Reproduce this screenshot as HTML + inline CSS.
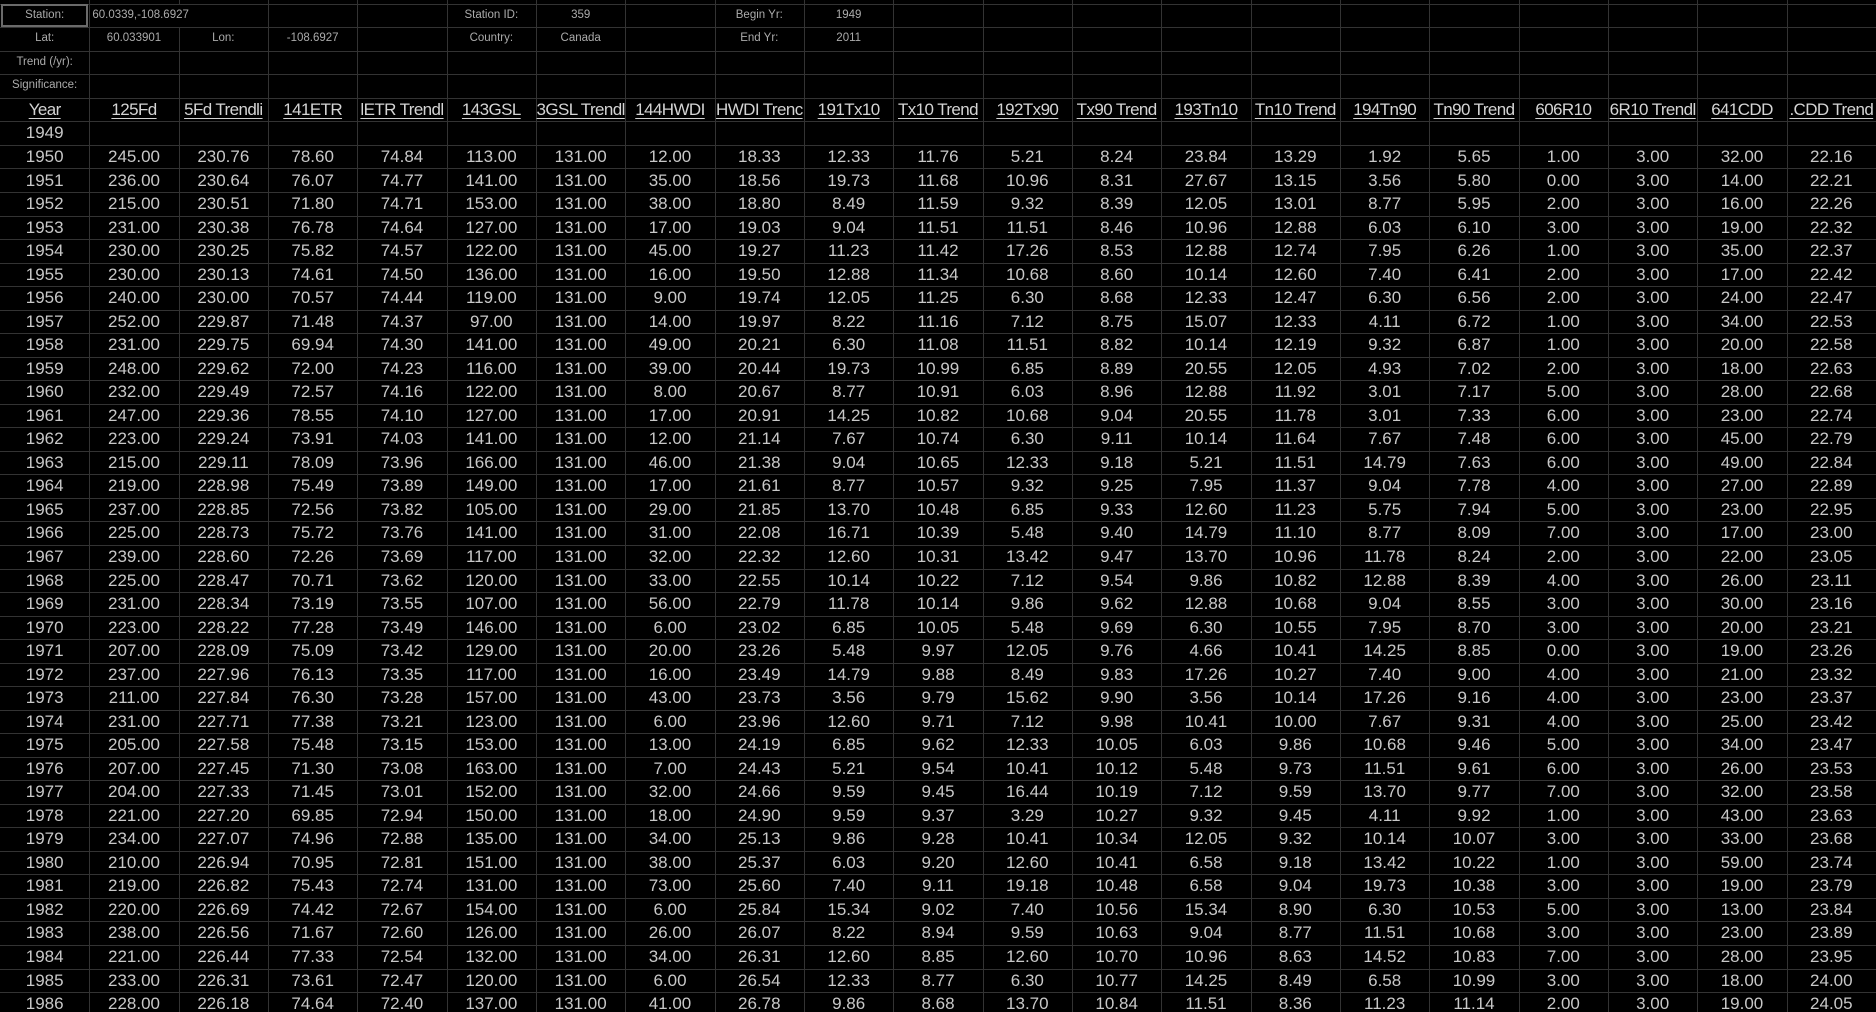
<!DOCTYPE html>
<html><head><meta charset="utf-8">
<style>
html,body{margin:0;padding:0;background:#000;width:1876px;height:1012px;overflow:hidden}
#sheet{position:relative;width:1876px;height:1012px;background:#000;font-family:"Liberation Sans",sans-serif}
.c{position:absolute;box-sizing:border-box;border-right:1px solid #333;border-bottom:1px solid #333;color:#c8c8c8;font-size:17px;text-align:center;white-space:nowrap;overflow:hidden;line-height:23px}
.s{font-size:11.5px;color:#ababab}
.h{text-decoration:underline;text-underline-offset:3px;color:#d4d4d4;letter-spacing:-0.6px}
.l{text-align:left;overflow:visible;padding-left:3px}
</style></head><body>
<div id="sheet"></div>
<script>
const headers=["Year","125Fd","5Fd Trendli","141ETR","lETR Trendl","143GSL","3GSL Trendl","144HWDI","HWDI Trenc","191Tx10","Tx10 Trend","192Tx90","Tx90 Trend","193Tn10","Tn10 Trend","194Tn90","Tn90 Trend","606R10","6R10 Trendl","641CDD",".CDD Trend"];
const dataRows=[
"1950 245.00 230.76 78.60 74.84 113.00 131.00 12.00 18.33 12.33 11.76 5.21 8.24 23.84 13.29 1.92 5.65 1.00 3.00 32.00 22.16",
"1951 236.00 230.64 76.07 74.77 141.00 131.00 35.00 18.56 19.73 11.68 10.96 8.31 27.67 13.15 3.56 5.80 0.00 3.00 14.00 22.21",
"1952 215.00 230.51 71.80 74.71 153.00 131.00 38.00 18.80 8.49 11.59 9.32 8.39 12.05 13.01 8.77 5.95 2.00 3.00 16.00 22.26",
"1953 231.00 230.38 76.78 74.64 127.00 131.00 17.00 19.03 9.04 11.51 11.51 8.46 10.96 12.88 6.03 6.10 3.00 3.00 19.00 22.32",
"1954 230.00 230.25 75.82 74.57 122.00 131.00 45.00 19.27 11.23 11.42 17.26 8.53 12.88 12.74 7.95 6.26 1.00 3.00 35.00 22.37",
"1955 230.00 230.13 74.61 74.50 136.00 131.00 16.00 19.50 12.88 11.34 10.68 8.60 10.14 12.60 7.40 6.41 2.00 3.00 17.00 22.42",
"1956 240.00 230.00 70.57 74.44 119.00 131.00 9.00 19.74 12.05 11.25 6.30 8.68 12.33 12.47 6.30 6.56 2.00 3.00 24.00 22.47",
"1957 252.00 229.87 71.48 74.37 97.00 131.00 14.00 19.97 8.22 11.16 7.12 8.75 15.07 12.33 4.11 6.72 1.00 3.00 34.00 22.53",
"1958 231.00 229.75 69.94 74.30 141.00 131.00 49.00 20.21 6.30 11.08 11.51 8.82 10.14 12.19 9.32 6.87 1.00 3.00 20.00 22.58",
"1959 248.00 229.62 72.00 74.23 116.00 131.00 39.00 20.44 19.73 10.99 6.85 8.89 20.55 12.05 4.93 7.02 2.00 3.00 18.00 22.63",
"1960 232.00 229.49 72.57 74.16 122.00 131.00 8.00 20.67 8.77 10.91 6.03 8.96 12.88 11.92 3.01 7.17 5.00 3.00 28.00 22.68",
"1961 247.00 229.36 78.55 74.10 127.00 131.00 17.00 20.91 14.25 10.82 10.68 9.04 20.55 11.78 3.01 7.33 6.00 3.00 23.00 22.74",
"1962 223.00 229.24 73.91 74.03 141.00 131.00 12.00 21.14 7.67 10.74 6.30 9.11 10.14 11.64 7.67 7.48 6.00 3.00 45.00 22.79",
"1963 215.00 229.11 78.09 73.96 166.00 131.00 46.00 21.38 9.04 10.65 12.33 9.18 5.21 11.51 14.79 7.63 6.00 3.00 49.00 22.84",
"1964 219.00 228.98 75.49 73.89 149.00 131.00 17.00 21.61 8.77 10.57 9.32 9.25 7.95 11.37 9.04 7.78 4.00 3.00 27.00 22.89",
"1965 237.00 228.85 72.56 73.82 105.00 131.00 29.00 21.85 13.70 10.48 6.85 9.33 12.60 11.23 5.75 7.94 5.00 3.00 23.00 22.95",
"1966 225.00 228.73 75.72 73.76 141.00 131.00 31.00 22.08 16.71 10.39 5.48 9.40 14.79 11.10 8.77 8.09 7.00 3.00 17.00 23.00",
"1967 239.00 228.60 72.26 73.69 117.00 131.00 32.00 22.32 12.60 10.31 13.42 9.47 13.70 10.96 11.78 8.24 2.00 3.00 22.00 23.05",
"1968 225.00 228.47 70.71 73.62 120.00 131.00 33.00 22.55 10.14 10.22 7.12 9.54 9.86 10.82 12.88 8.39 4.00 3.00 26.00 23.11",
"1969 231.00 228.34 73.19 73.55 107.00 131.00 56.00 22.79 11.78 10.14 9.86 9.62 12.88 10.68 9.04 8.55 3.00 3.00 30.00 23.16",
"1970 223.00 228.22 77.28 73.49 146.00 131.00 6.00 23.02 6.85 10.05 5.48 9.69 6.30 10.55 7.95 8.70 3.00 3.00 20.00 23.21",
"1971 207.00 228.09 75.09 73.42 129.00 131.00 20.00 23.26 5.48 9.97 12.05 9.76 4.66 10.41 14.25 8.85 0.00 3.00 19.00 23.26",
"1972 237.00 227.96 76.13 73.35 117.00 131.00 16.00 23.49 14.79 9.88 8.49 9.83 17.26 10.27 7.40 9.00 4.00 3.00 21.00 23.32",
"1973 211.00 227.84 76.30 73.28 157.00 131.00 43.00 23.73 3.56 9.79 15.62 9.90 3.56 10.14 17.26 9.16 4.00 3.00 23.00 23.37",
"1974 231.00 227.71 77.38 73.21 123.00 131.00 6.00 23.96 12.60 9.71 7.12 9.98 10.41 10.00 7.67 9.31 4.00 3.00 25.00 23.42",
"1975 205.00 227.58 75.48 73.15 153.00 131.00 13.00 24.19 6.85 9.62 12.33 10.05 6.03 9.86 10.68 9.46 5.00 3.00 34.00 23.47",
"1976 207.00 227.45 71.30 73.08 163.00 131.00 7.00 24.43 5.21 9.54 10.41 10.12 5.48 9.73 11.51 9.61 6.00 3.00 26.00 23.53",
"1977 204.00 227.33 71.45 73.01 152.00 131.00 32.00 24.66 9.59 9.45 16.44 10.19 7.12 9.59 13.70 9.77 7.00 3.00 32.00 23.58",
"1978 221.00 227.20 69.85 72.94 150.00 131.00 18.00 24.90 9.59 9.37 3.29 10.27 9.32 9.45 4.11 9.92 1.00 3.00 43.00 23.63",
"1979 234.00 227.07 74.96 72.88 135.00 131.00 34.00 25.13 9.86 9.28 10.41 10.34 12.05 9.32 10.14 10.07 3.00 3.00 33.00 23.68",
"1980 210.00 226.94 70.95 72.81 151.00 131.00 38.00 25.37 6.03 9.20 12.60 10.41 6.58 9.18 13.42 10.22 1.00 3.00 59.00 23.74",
"1981 219.00 226.82 75.43 72.74 131.00 131.00 73.00 25.60 7.40 9.11 19.18 10.48 6.58 9.04 19.73 10.38 3.00 3.00 19.00 23.79",
"1982 220.00 226.69 74.42 72.67 154.00 131.00 6.00 25.84 15.34 9.02 7.40 10.56 15.34 8.90 6.30 10.53 5.00 3.00 13.00 23.84",
"1983 238.00 226.56 71.67 72.60 126.00 131.00 26.00 26.07 8.22 8.94 9.59 10.63 9.04 8.77 11.51 10.68 3.00 3.00 23.00 23.89",
"1984 221.00 226.44 77.33 72.54 132.00 131.00 34.00 26.31 12.60 8.85 12.60 10.70 10.96 8.63 14.52 10.83 7.00 3.00 28.00 23.95",
"1985 233.00 226.31 73.61 72.47 120.00 131.00 6.00 26.54 12.33 8.77 6.30 10.77 14.25 8.49 6.58 10.99 3.00 3.00 18.00 24.00",
"1986 228.00 226.18 74.64 72.40 137.00 131.00 41.00 26.78 9.86 8.68 13.70 10.84 11.51 8.36 11.23 11.14 2.00 3.00 19.00 24.05"
];
const infoCells=[
[0,0,"Station:"],[0,1,"60.0339,-108.6927","l"],[0,5,"Station ID:"],[0,6,"359"],[0,8,"Begin Yr:"],[0,9,"1949"],
[1,0,"Lat:"],[1,1,"60.033901"],[1,2,"Lon:"],[1,3,"-108.6927"],[1,5,"Country:"],[1,6,"Canada"],[1,8,"End Yr:"],[1,9,"2011"],
[2,0,"Trend (/yr):"],[3,0,"Significance:"]
];
const sheet=document.getElementById('sheet');
const COLW=1876/21, ROWH=23.53, TOP=3.8;
const infoMap={};
infoCells.forEach(c=>{infoMap[c[0]+'_'+c[1]]=c;});
function cell(r,col,txt,cls){
  const d=document.createElement('div');
  d.className='c '+(cls||'');
  d.style.left=(col*COLW)+'px';
  d.style.top=(TOP+r*ROWH)+'px';
  d.style.width=(COLW+1)+'px';
  d.style.height=(ROWH+1)+'px';
  d.textContent=txt;
  
  
  sheet.appendChild(d);
  return d;
}
for(let col=0;col<21;col++){
  cell(-1,col,'');
}
const totalRows=6+dataRows.length;
for(let r=0;r<totalRows;r++){
  for(let col=0;col<21;col++){
    let txt='',cls='';
    if(r<4){
      const ic=infoMap[r+'_'+col];
      cls='s';
      if(ic){txt=ic[2];if(ic[3])cls+=' l';}
    } else if(r===4){
      txt=headers[col];cls='h';
    } else if(r===5){
      txt=col===0?'1949':'';
    } else {
      txt=dataRows[r-6].split(' ')[col];
    }
    const d=cell(r,col,txt,cls);
    if(r<4 && cls.indexOf('l')>=0){d.style.zIndex=2;d.style.borderRight='none';}
  }
}
const sel=document.createElement('div');
sel.style.cssText='position:absolute;left:1px;top:'+(TOP)+'px;width:'+(COLW-2)+'px;height:'+(ROWH)+'px;border:2px solid #6a6a6a;box-sizing:border-box;z-index:3';


sheet.appendChild(sel);
</script>
</body></html>
